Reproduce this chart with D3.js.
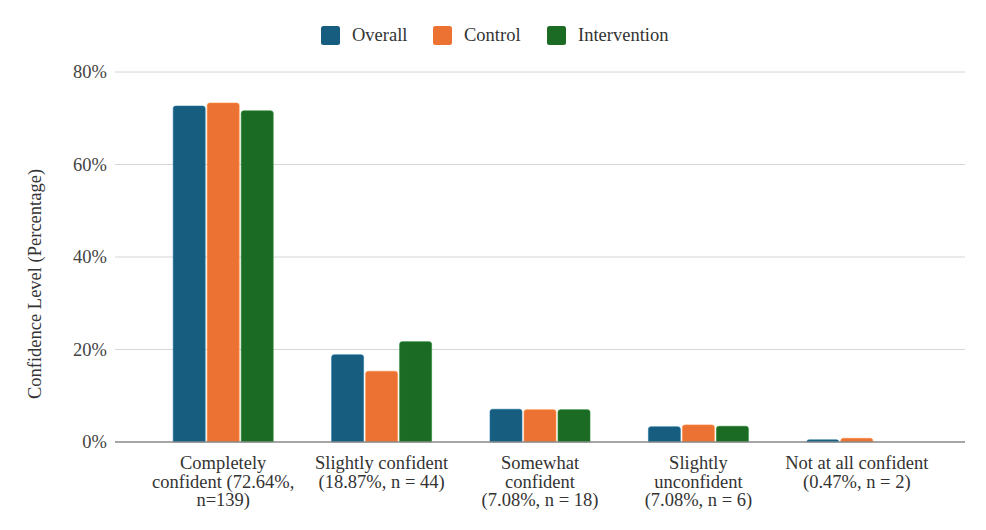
<!DOCTYPE html>
<html><head><meta charset="utf-8">
<script src="https://cdn.jsdelivr.net/npm/d3@7"></script>
<style>body{margin:0;background:#fff}svg{display:block}</style>
</head><body>
<svg id="c" width="986" height="530"></svg>
<script>
const categories = [
  ["Completely", "confident (72.64%,", "n=139)"],
  ["Slightly confident", "(18.87%, n = 44)"],
  ["Somewhat", "confident", "(7.08%, n = 18)"],
  ["Slightly", "unconfident", "(7.08%, n = 6)"],
  ["Not at all confident", "(0.47%, n = 2)"]
];
const seriesNames = ["Overall", "Control", "Intervention"];
const colors = ["#165d80", "#ec7233", "#1b6b24"];
const overall = [72.64, 18.87, 7.08, 3.3, 0.47];
const control = [73.3, 15.3, 7.0, 3.7, 0.8];
const intervention = [71.6, 21.7, 7.0, 3.4, 0];
const yTicks = [0, 20, 40, 60, 80];

(function () {
const values = [overall, control, intervention];
const svg = d3.select("#c");
const FONT = '"Liberation Serif"';
const FS = 18.5;
const pLeft = 115, pRight = 965, pTop = 72, pBottom = 442;

const x = d3.scaleBand().domain(d3.range(categories.length)).range([144, 936]);
const xs = d3.scaleBand().domain(d3.range(seriesNames.length)).range([0, 100]).paddingInner(0.06);
const y = d3.scaleLinear().domain([0, 80]).range([pBottom, pTop]);

svg.append("g").selectAll("line").data(yTicks.filter(d => d > 0)).join("line")
  .attr("x1", pLeft).attr("x2", pRight).attr("y1", d => y(d)).attr("y2", d => y(d))
  .attr("stroke", "#d6d6d6").attr("stroke-width", 1);

const yAxis = d3.axisLeft(y).tickValues(yTicks).tickFormat(d => d + "%").tickSize(0).tickPadding(8);
const ga = svg.append("g").attr("transform", `translate(${pLeft},0)`).call(yAxis);
ga.select(".domain").remove();
ga.selectAll("text").style("font-family", FONT).style("font-size", FS + "px").attr("fill", "#444");

const groups = svg.append("g").selectAll("g").data(categories).join("g")
  .attr("transform", (d, i) => `translate(${x(i) + x.bandwidth() / 2 - 50},0)`);
groups.selectAll("path").data((d, i) => values.map((s, j) => ({ j, v: s[i] }))).join("path")
  .attr("d", d => {
    const x0 = xs(d.j), w = xs.bandwidth(), y0 = y(d.v), h = pBottom - y0;
    if (h <= 0) return "";
    const r = Math.min(2.5, h);
    return `M${x0},${pBottom}V${y0 + r}Q${x0},${y0} ${x0 + r},${y0}H${x0 + w - r}Q${x0 + w},${y0} ${x0 + w},${y0 + r}V${pBottom}Z`;
  })
  .attr("fill", d => colors[d.j])
  .attr("stroke", d => d3.color(colors[d.j]).brighter(0.6))
  .attr("stroke-width", 0.6);

svg.append("line").attr("x1", pLeft).attr("x2", pRight).attr("y1", pBottom).attr("y2", pBottom)
  .attr("stroke", "#888").attr("stroke-width", 1.5);

const xl = svg.append("g").selectAll("text").data(categories).join("text")
  .attr("x", (d, i) => x(i) + x.bandwidth() / 2)
  .attr("y", 469)
  .attr("text-anchor", "middle")
  .style("font-family", FONT).style("font-size", FS + "px").attr("fill", "#333");
xl.selectAll("tspan").data(d => d).join("tspan")
  .attr("x", function () { return this.parentNode.getAttribute("x"); })
  .attr("dy", (d, i) => i === 0 ? 0 : 18.5)
  .text(d => d);

svg.append("text").attr("transform", "translate(41,284) rotate(-90)")
  .attr("text-anchor", "middle").style("font-family", FONT).style("font-size", FS + "px").attr("fill", "#333")
  .text("Confidence Level (Percentage)");

const legX = [321, 433, 547];
const lg = svg.append("g").selectAll("g").data(seriesNames).join("g")
  .attr("transform", (d, i) => `translate(${legX[i]},26)`);
lg.append("rect").attr("width", 19).attr("height", 19).attr("rx", 2.5)
  .attr("fill", (d, i) => colors[i]);
lg.append("text").attr("x", 31).attr("y", 15).style("font-family", FONT).style("font-size", FS + "px")
  .attr("fill", "#333").text(d => d);
})();
</script>
</body></html>
